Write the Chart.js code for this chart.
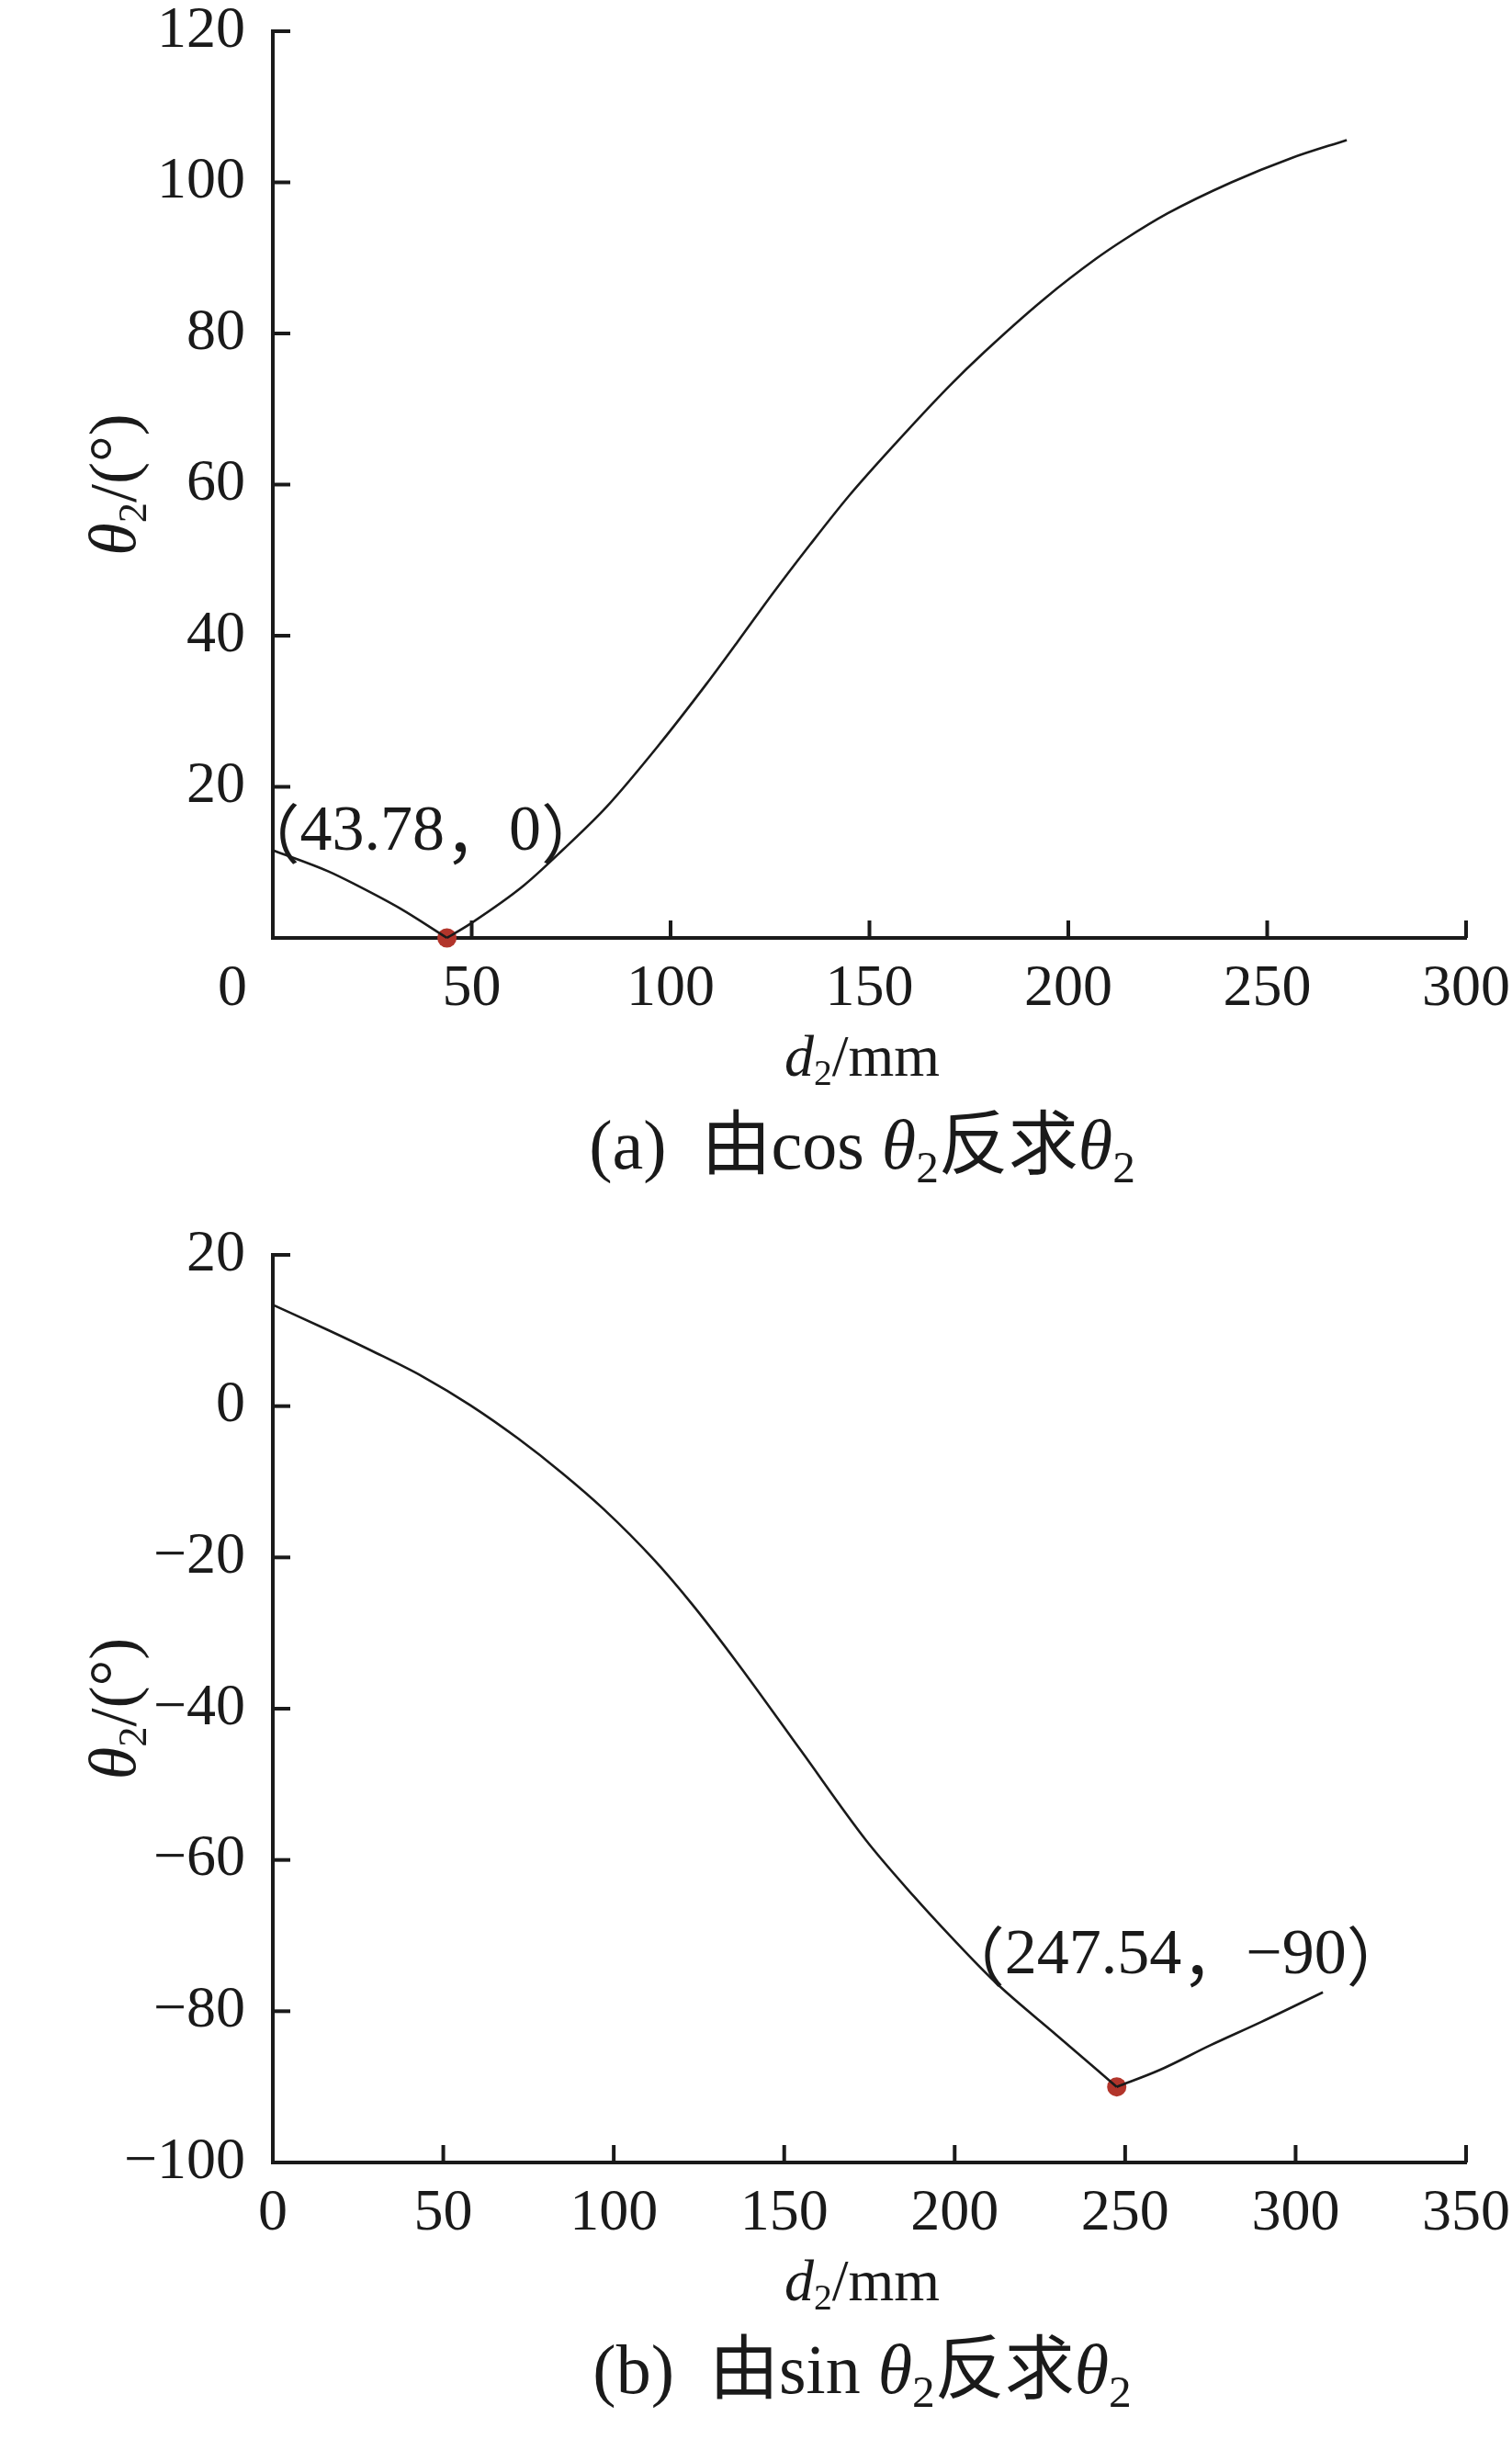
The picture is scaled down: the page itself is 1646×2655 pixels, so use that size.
<!DOCTYPE html>
<html><head><meta charset="utf-8">
<script src="https://cdn.jsdelivr.net/npm/chart.js@4.4.1/dist/chart.umd.min.js"></script>
<style>
html,body{margin:0;padding:0;background:#fff;}
body{width:1646px;height:2655px;position:relative;overflow:hidden;}
.wrap{position:absolute;left:0;width:1646px;}
#wa{top:0;height:1330px;}
#wb{top:1330px;height:1325px;}
canvas{display:block;}
</style></head><body>
<div class="wrap" id="wa"><canvas id="ca" width="1646" height="1330"></canvas></div>
<div class="wrap" id="wb"><canvas id="cb" width="1646" height="1325"></canvas></div>
<script>
// ---- data: (a) from cos θ2 ----
const cosD2    = [0, 14, 21, 32, 43.78, 50, 63, 73, 84, 97, 109, 117, 126, 135, 145, 157, 170, 179, 194, 207, 214, 225, 241, 256, 270];
const cosTheta = [11.6, 8.8, 7.0, 3.9, 0, 2.0, 6.9, 11.7, 17.4, 25.5, 33.6, 39.3, 45.8, 52.0, 58.6, 65.7, 73.0, 77.6, 84.6, 89.9, 92.4, 95.9, 100.0, 103.2, 105.6];
const cosPoint = [43.78, 0];
const cosXTicks = [0, 50, 100, 150, 200, 250, 300];
const cosYTicks = [0, 20, 40, 60, 80, 100, 120];

// ---- data: (b) from sin θ2 ----
const sinD2    = [0, 16, 30, 44, 58, 72, 85, 97, 112, 123, 136, 155, 174, 188, 199, 212, 230, 247.54, 260, 275, 290, 308];
const sinTheta = [13.4, 10.1, 7.1, 3.9, 0.1, -4.3, -8.9, -13.6, -20.4, -26.2, -33.8, -45.6, -57.4, -64.8, -70.2, -76.2, -83.2, -90, -87.8, -84.5, -81.4, -77.5];
const sinPoint = [247.54, -90];
const sinXTicks = [0, 50, 100, 150, 200, 250, 300, 350];
const sinYTicks = [-100, -80, -60, -40, -20, 0, 20];

const INK = '#1a1a1a';
const DOT = '#b2352b';
const SERIF = '"Liberation Serif","Times New Roman",serif';
const CJK = '"Noto Sans CJK SC","Noto Sans CJK JP",sans-serif';
const TICK_FS = 64, XH = 100, TL = 19, AXW = 4;

function fontOf(s){ return (s.italic?'italic ':'') + s.size + 'px ' + (s.cjk?CJK:SERIF); }
function drawRich(ctx, segs, x, y, align){
  let w = 0;
  segs.forEach(s => { ctx.font = fontOf(s); s.w = ctx.measureText(s.t).width + (s.gap||0); w += s.w; });
  let cx = align === 'center' ? x - w/2 : x;
  segs.forEach(s => { ctx.font = fontOf(s); ctx.fillText(s.t, cx, y + (s.dy||0)); cx += s.w; });
}
function thetaTitle(fs){
  return [{t:'θ',size:fs,italic:true},{t:'2',size:fs*0.62,dy:fs*0.16},{t:'/(°)',size:fs}];
}
function d2Title(fs){
  return [{t:'d',size:fs,italic:true},{t:'2',size:fs*0.62,dy:fs*0.16},{t:'/mm',size:fs}];
}
function caption(letter, fn){
  const fs = 76;
  return [
    {t:'('+letter+')',size:fs,gap:fs*0.5},
    {t:'由',size:fs,cjk:true},
    {t:fn+' ',size:fs},
    {t:'θ',size:fs,italic:true},{t:'2',size:fs*0.65,dy:fs*0.2},
    {t:'反求',size:fs,cjk:true},
    {t:'θ',size:fs,italic:true},{t:'2',size:fs*0.65,dy:fs*0.2}
  ];
}
function zeroPad(s){ s.paddingTop = 0; s.paddingBottom = 0; s.paddingLeft = 0; s.paddingRight = 0; }

function makeChart(canvas, xs, ys, pt, xTicks, yTicks, cfg){
  const H = canvas.height;
  const pts = xs.map((v,i) => ({x:v, y:ys[i]}));
  const k = xs.indexOf(pt[0]);
  const left = pts.slice(0, k + 1), right = pts.slice(k);
  const deco = {
    id:'deco',
    afterDraw(chart){
      const {ctx, chartArea:ca, scales:{x, y}} = chart;
      ctx.save();
      ctx.strokeStyle = INK; ctx.lineWidth = AXW;
      y.ticks.forEach(t => { const py = y.getPixelForValue(t.value); ctx.beginPath(); ctx.moveTo(ca.left, py); ctx.lineTo(ca.left + TL, py); ctx.stroke(); });
      x.ticks.forEach(t => { const px = x.getPixelForValue(t.value); ctx.beginPath(); ctx.moveTo(px, ca.bottom); ctx.lineTo(px, ca.bottom - TL); ctx.stroke(); });
      ctx.fillStyle = INK;
      if (cfg.originShift){
        ctx.font = TICK_FS + 'px ' + SERIF; ctx.textAlign = 'center'; ctx.textBaseline = 'middle';
        ctx.fillText('0', x.getPixelForValue(0) + cfg.originShift, x.top + cfg.xPad + TICK_FS/2);
      }
      ctx.textAlign = 'left';
      const px = x.getPixelForValue(pt[0]), py = y.getPixelForValue(pt[1]);
      ctx.textBaseline = 'middle';
      drawRich(ctx, cfg.annot, px + cfg.annDx, py + cfg.annDy, 'left');
      ctx.textBaseline = 'alphabetic';
      const cx = (ca.left + ca.right)/2;
      drawRich(ctx, d2Title(64), cx - 8, ca.bottom + 150, 'center');
      drawRich(ctx, caption(cfg.letter, cfg.fn), cx - 8, ca.bottom + 251, 'center');
      ctx.translate(ca.left - 150, (ca.top + ca.bottom)/2);
      ctx.rotate(-Math.PI/2);
      drawRich(ctx, thetaTitle(72), 0, 0, 'center');
      ctx.restore();
    }
  };
  const lineDs = d => ({data:d, borderColor:INK, borderWidth:2.6, pointRadius:0, cubicInterpolationMode:'monotone', fill:false, order:0, clip:false});
  return new Chart(canvas, {
    type:'line',
    data:{datasets:[
      lineDs(left), lineDs(right),
      {data:[{x:pt[0], y:pt[1]}], showLine:false, pointRadius:10.5, pointHoverRadius:10.5, pointBackgroundColor:DOT, pointBorderWidth:0, order:1, clip:false}
    ]},
    options:{
      responsive:false, animation:false, devicePixelRatio:1,
      events:[],
      layout:{padding:{left:0, right:50, top:cfg.top, bottom:H - cfg.bottom - XH}},
      plugins:{legend:{display:false}, tooltip:{enabled:false}},
      scales:{
        x:{type:'linear', min:xTicks[0], max:xTicks[xTicks.length-1],
           afterBuildTicks(s){ s.ticks = xTicks.map(v => ({value:v})); },
           ticks:{autoSkip:false, maxRotation:0, padding:cfg.xPad, color:INK,
                  font:{family:SERIF, size:TICK_FS, lineHeight:1},
                  callback:v => (cfg.originShift && v === 0) ? '' : String(v)},
           grid:{display:false, drawTicks:false},
           border:{display:true, color:INK, width:AXW},
           afterFit(s){ s.height = XH; zeroPad(s); }},
        y:{type:'linear', min:yTicks[0], max:yTicks[yTicks.length-1],
           afterBuildTicks(s){ s.ticks = yTicks.map(v => ({value:v})); },
           ticks:{autoSkip:false, padding:30, color:INK,
                  font:{family:SERIF, size:TICK_FS, lineHeight:1},
                  callback:v => (cfg.hideY0 && v === 0) ? '' : String(v).replace('-', '\u2212')},
           grid:{display:false, drawTicks:false},
           border:{display:true, color:INK, width:AXW},
           afterFit(s){ s.width = 297; zeroPad(s); }}
      }
    },
    plugins:[deco]
  });
}

const annA = [{t:'（',size:70,cjk:true},{t:'43.78',size:70},{t:'，',size:70,cjk:true},{t:'0',size:70},{t:'）',size:70,cjk:true}];
const annB = [{t:'（',size:70,cjk:true},{t:'247.54',size:70},{t:'，',size:70,cjk:true},{t:'\u221290',size:70},{t:'）',size:70,cjk:true}];

makeChart(document.getElementById('ca'), cosD2, cosTheta, cosPoint, cosXTicks, cosYTicks,
  {letter:'a', fn:'cos', hideY0:true, originShift:-44, xPad:24, top:34, bottom:1021, annot:annA, annDx:-230, annDy:-114});
makeChart(document.getElementById('cb'), sinD2, sinTheta, sinPoint, sinXTicks, sinYTicks,
  {letter:'b', fn:'sin', hideY0:false, originShift:0, xPad:24, top:36, bottom:1024, annot:annB, annDx:-192, annDy:-142});
</script>
</body></html>
